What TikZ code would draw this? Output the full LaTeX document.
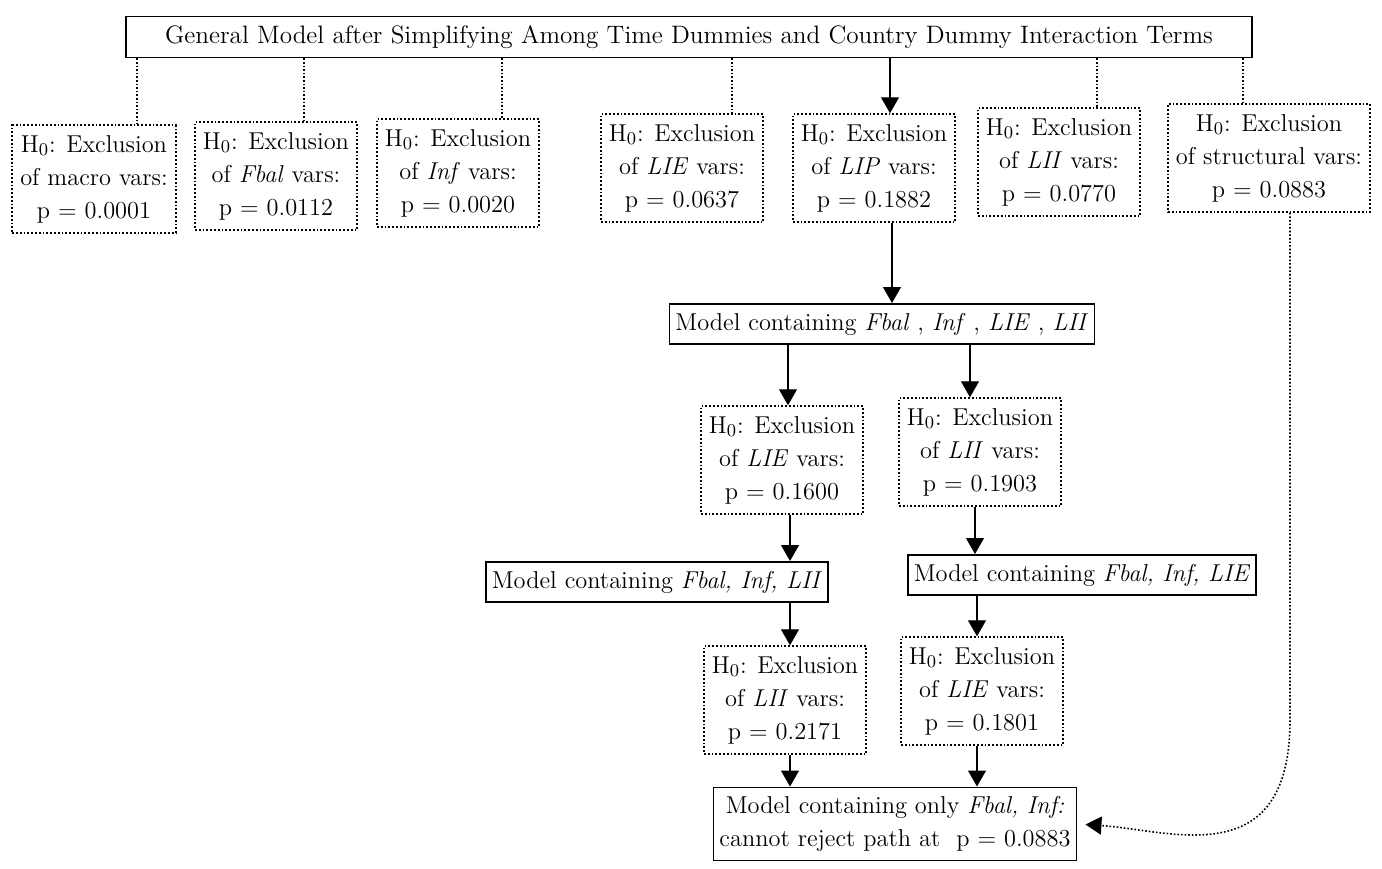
\documentclass[tikz,border=0pt]{standalone}
\usepackage{tikz}
\usetikzlibrary{arrows.meta}

\begin{document}
\begin{tikzpicture}[x=0.5pt,y=-0.5pt,>={Triangle[width=9pt,length=8pt]},
	font=\fontsize{12.2}{16.5}\selectfont,
	model/.style={draw,line width=0.9pt,inner xsep=3pt,inner ysep=4.5pt},
	hyp/.style={draw,densely dotted,line width=0.9pt,align=center,inner xsep=4pt,inner ysep=5pt},
	link/.style={densely dotted,line width=0.8pt},
	arr/.style={->,line width=0.6pt}]
	
	\useasboundingbox (0,0) rectangle (1382,868);
	
	% general model
	\node[model,minimum width=563pt,minimum height=19pt,font=\fontsize{12.6}{16.5}\selectfont] (top) at (689,37)
		{General Model after Simplifying Among Time Dummies and Country Dummy Interaction Terms};
	
	% first round of exclusion tests
	\node[hyp] (macro) at (94,179) {H$_0$: Exclusion\\of macro vars:\\p = 0.0001};
	\node[hyp] (fbal) at (276,176) {H$_0$: Exclusion\\of \textit{Fbal} vars:\\p = 0.0112};
	\node[hyp] (inf) at (458,173) {H$_0$: Exclusion\\of \textit{Inf} vars:\\p = 0.0020};
	\node[hyp] (lie) at (682,168) {H$_0$: Exclusion\\of \textit{LIE} vars:\\p = 0.0637};
	\node[hyp] (lip) at (874,168) {H$_0$: Exclusion\\of \textit{LIP} vars:\\p = 0.1882};
	\node[hyp] (lii) at (1059,162) {H$_0$: Exclusion\\of \textit{LII} vars:\\p = 0.0770};
	\node[hyp] (struct) at (1269,158) {H$_0$: Exclusion\\of structural vars:\\p = 0.0883};
	
	\draw[link] (top.south -| 137,0) -- (macro.north -| 137,0);
	\draw[link] (top.south -| 304,0) -- (fbal.north -| 304,0);
	\draw[link] (top.south -| 502,0) -- (inf.north -| 502,0);
	\draw[link] (top.south -| 732,0) -- (lie.north -| 732,0);
	\draw[arr] (top.south -| 890,0) -- (lip.north -| 890,0);
	\draw[link] (top.south -| 1097,0) -- (lii.north -| 1097,0);
	\draw[link] (top.south -| 1243,0) -- (struct.north -| 1243,0);
	
	% second round
	\node[model] (mfour) at (882,324) {Model containing \textit{Fbal} , \textit{Inf} , \textit{LIE} , \textit{LII}};
	\draw[arr] (lip.south -| 892,0) -- (mfour.north -| 892,0);
	
	\node[hyp] (lietwo) at (782,460) {H$_0$: Exclusion\\of \textit{LIE} vars:\\p = 0.1600};
	\node[hyp] (liitwo) at (980,452) {H$_0$: Exclusion\\of \textit{LII} vars:\\p = 0.1903};
	\draw[arr] (mfour.south -| 788,0) -- (lietwo.north -| 788,0);
	\draw[arr] (mfour.south -| 970,0) -- (liitwo.north -| 970,0);
	
	% third round
	\node[model] (mthreea) at (657,582) {Model containing \textit{Fbal, Inf, LII}};
	\node[model] (mthreeb) at (1082,575) {Model containing \textit{Fbal, Inf, LIE}};
	\draw[arr] (lietwo.south -| 790,0) -- (mthreea.north -| 790,0);
	\draw[arr] (liitwo.south -| 975,0) -- (mthreeb.north -| 975,0);
	
	\node[hyp] (liithree) at (785,700) {H$_0$: Exclusion\\of \textit{LII} vars:\\p = 0.2171};
	\node[hyp] (liethree) at (982,691) {H$_0$: Exclusion\\of \textit{LIE} vars:\\p = 0.1801};
	\draw[arr] (mthreea.south -| 790,0) -- (liithree.north -| 790,0);
	\draw[arr] (mthreeb.south -| 977,0) -- (liethree.north -| 977,0);
	
	% final model
	\node[model,align=center] (final) at (895,824)
		{Model containing only \textit{Fbal, Inf:}\\cannot reject path at \ p = 0.0883};
	\draw[arr] (liithree.south -| 790,0) -- (final.north -| 790,0);
	\draw[arr] (liethree.south -| 977,0) -- (final.north -| 977,0);
	
	% shortcut from structural test
	\draw[link,->,shorten >=4pt] (struct.south -| 1290,0) -- (1290,720)
		.. controls (1290,875) and (1170,830) .. (final.east);
	
\end{tikzpicture}
\end{document}
